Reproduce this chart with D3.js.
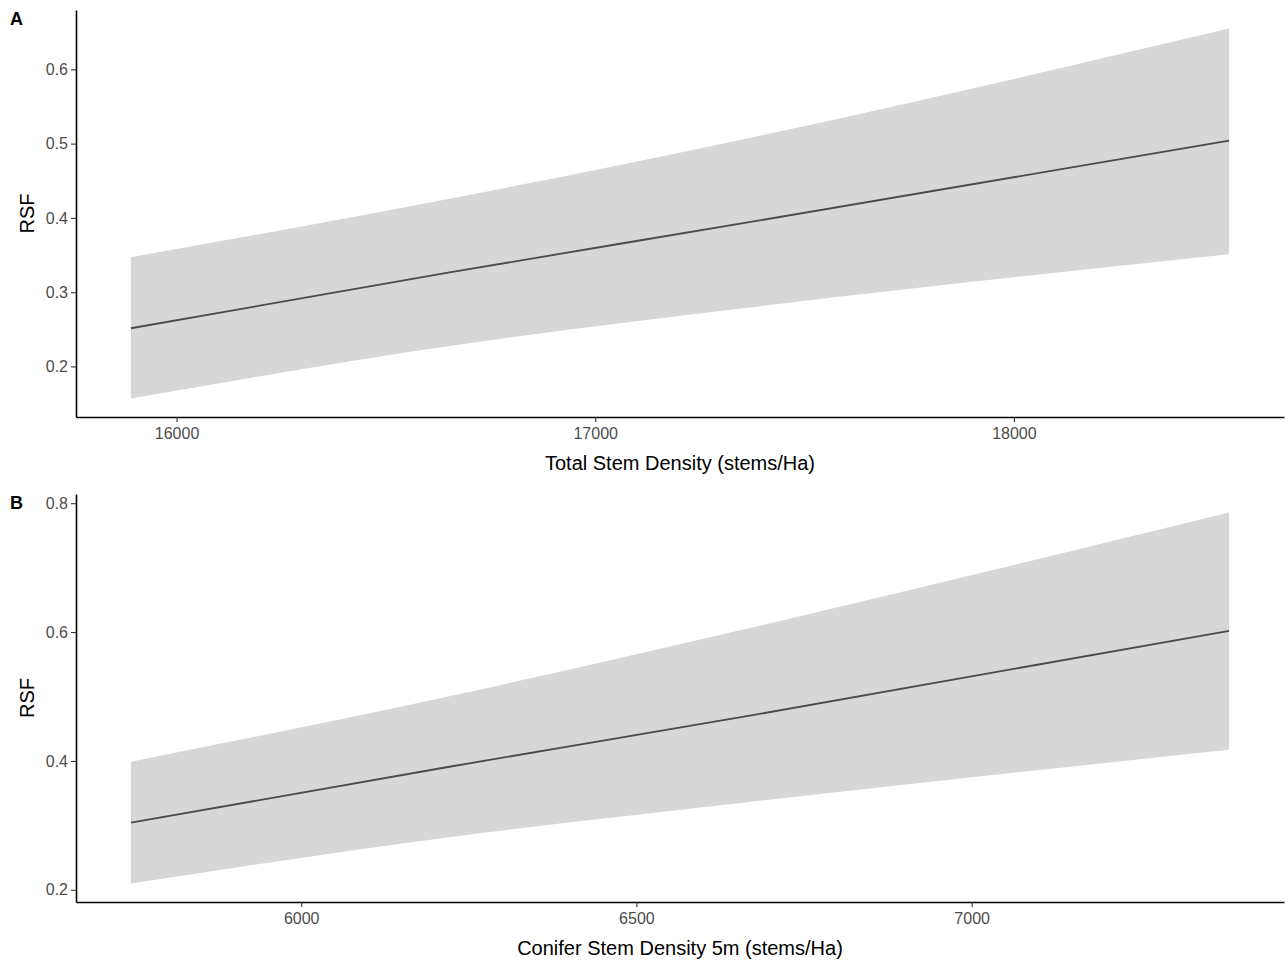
<!DOCTYPE html>
<html>
<head>
<meta charset="utf-8">
<script src="https://cdn.jsdelivr.net/npm/d3@7"></script>
<style>
  html, body { margin: 0; padding: 0; background: #fff; }
  svg { display: block; font-family: "Liberation Sans", Arial, sans-serif; }
</style>
</head>
<body>
<svg id="chart" width="1286" height="961"></svg>
<script>
// Panel A: RSF vs total stem density
const densityA = [15891, 16652, 17368, 18514];
const fitA     = [0.2514, 0.3266, 0.3942, 0.5040];
const lowerA   = [0.1568, 0.2274, 0.2793, 0.3510];
const upperA   = [0.3470, 0.4257, 0.5077, 0.6550];
const xTicksA  = [16000, 17000, 18000];
const yTicksA  = [0.2, 0.3, 0.4, 0.5, 0.6];

// Panel B: RSF vs conifer stem density at 5 m
const densityB = [5746, 6221, 6669, 7384];
const fitB     = [0.3042, 0.3910, 0.4703, 0.6020];
const lowerB   = [0.2099, 0.2817, 0.3364, 0.4172];
const upperB   = [0.3989, 0.5005, 0.6063, 0.7855];
const xTicksB  = [6000, 6500, 7000];
const yTicksB  = [0.2, 0.4, 0.6, 0.8];

const panels = [
  { tag: "A", x: densityA, fit: fitA, lo: lowerA, hi: upperA,
    xTicks: xTicksA, yTicks: yTicksA, top: 10, bottom: 417,
    xTitle: "Total Stem Density (stems/Ha)" },
  { tag: "B", x: densityB, fit: fitB, lo: lowerB, hi: upperB,
    xTicks: xTicksB, yTicks: yTicksB, top: 494, bottom: 902,
    xTitle: "Conifer Stem Density 5m (stems/Ha)" }
];

const svg = d3.select("#chart");
const left = 76, right = 1284;

// ggplot-style 5% padding on each side of the data range
function expand(lo, hi) {
  const pad = (hi - lo) * 0.05;
  return [lo - pad, hi + pad];
}

panels.forEach(p => {
  const rows = p.x.map((v, i) => ({ x: v, fit: p.fit[i], lo: p.lo[i], hi: p.hi[i] }));

  const x = d3.scaleLinear()
    .domain(expand(d3.min(p.x), d3.max(p.x)))
    .range([left, right]);
  const y = d3.scaleLinear()
    .domain(expand(d3.min(p.lo), d3.max(p.hi)))
    .range([p.bottom, p.top]);

  const g = svg.append("g");

  // confidence ribbon
  g.append("path")
    .datum(rows)
    .attr("fill", "#d7d7d7")
    .attr("d", d3.area().curve(d3.curveMonotoneX)
      .x(d => x(d.x)).y0(d => y(d.lo)).y1(d => y(d.hi)));

  // fitted line
  g.append("path")
    .datum(rows)
    .attr("fill", "none")
    .attr("stroke", "#4a4a4a")
    .attr("stroke-width", 1.8)
    .attr("d", d3.line().curve(d3.curveMonotoneX)
      .x(d => x(d.x)).y(d => y(d.fit)));

  // axes
  const xAxis = g.append("g")
    .attr("transform", `translate(0,${p.bottom})`)
    .call(d3.axisBottom(x).tickValues(p.xTicks).tickFormat(d3.format("d"))
      .tickSize(5).tickSizeOuter(0).tickPadding(3));
  const yAxis = g.append("g")
    .attr("transform", `translate(${left},0)`)
    .call(d3.axisLeft(y).tickValues(p.yTicks).tickFormat(d3.format(".1f"))
      .tickSize(5).tickSizeOuter(0).tickPadding(3));

  [xAxis, yAxis].forEach(a => {
    a.select(".domain").attr("stroke", "#000").attr("stroke-width", 1.6);
    a.selectAll(".tick line").attr("stroke", "#333").attr("stroke-width", 1.1);
    a.selectAll(".tick text").attr("fill", "#4d4d4d").attr("font-size", 16)
      .attr("font-family", "Liberation Sans, Arial, sans-serif");
  });
  xAxis.selectAll(".tick text").attr("dy", "0.85em");

  // axis titles
  g.append("text")
    .attr("x", (left + right) / 2)
    .attr("y", p.bottom + 53)
    .attr("text-anchor", "middle")
    .attr("font-size", 20)
    .attr("fill", "#000")
    .text(p.xTitle);

  g.append("text")
    .attr("transform", `translate(34,${(p.top + p.bottom) / 2}) rotate(-90)`)
    .attr("text-anchor", "middle")
    .attr("font-size", 20)
    .attr("fill", "#000")
    .text("RSF");

  // panel tag
  g.append("text")
    .attr("x", 10)
    .attr("y", p.top + 15)
    .attr("font-size", 18)
    .attr("font-weight", "bold")
    .attr("fill", "#000")
    .text(p.tag);
});
</script>
</body>
</html>
